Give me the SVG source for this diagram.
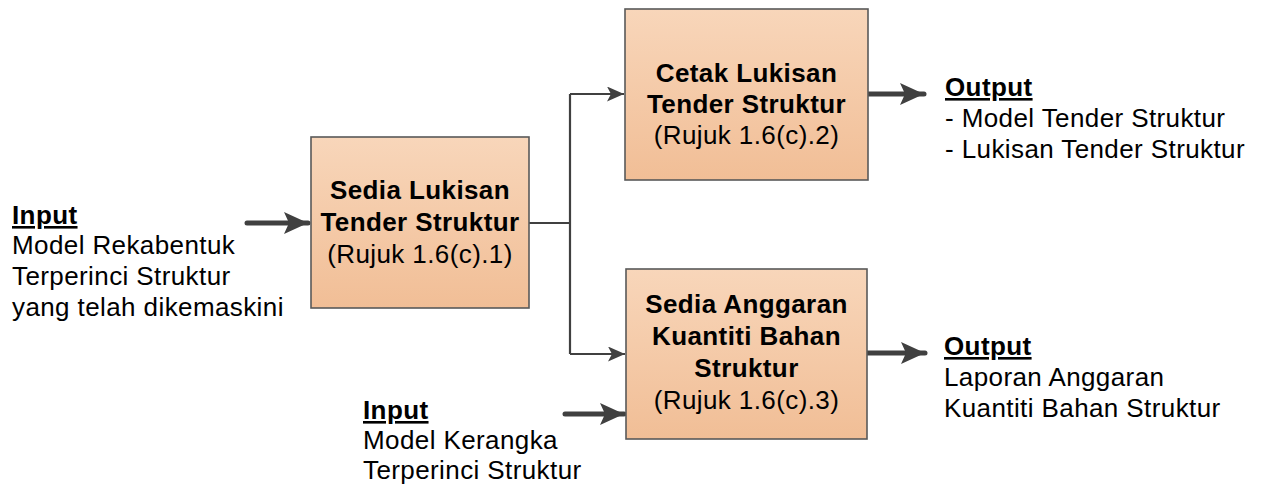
<svg xmlns="http://www.w3.org/2000/svg" width="1265" height="489" viewBox="0 0 1265 489">
  <style>
    text { font-family: "Liberation Sans", Arial, sans-serif; font-size: 26px; letter-spacing: 0.4px; fill: #000; }
    .b { font-weight: bold; }
    .u { font-weight: bold; text-decoration: underline; }
    .c { text-anchor: middle; }
    .box { fill: url(#peach); stroke: #595959; stroke-width: 1.6; }
    .thin { fill: none; stroke: #404040; stroke-width: 2.2; }
    .thick { fill: none; stroke: #404040; stroke-width: 5; stroke-linecap: round; }
  </style>
  <defs>
    <linearGradient id="peach" x1="0" y1="0" x2="0" y2="1">
      <stop offset="0" stop-color="#F8D6BA"/>
      <stop offset="1" stop-color="#F1BE96"/>
    </linearGradient>
    <marker id="headThin" viewBox="0 0 17 15" refX="17" refY="7.5" markerWidth="17" markerHeight="15" markerUnits="userSpaceOnUse" orient="auto">
      <path d="M0,0 L17,7.5 L0,15 L4,7.5 Z" fill="#404040"/>
    </marker>
    <marker id="headThick" viewBox="0 0 24 22" refX="24" refY="11" markerWidth="24" markerHeight="22" markerUnits="userSpaceOnUse" orient="auto">
      <path d="M0,0 L24,11 L0,22 L5,11 Z" fill="#404040"/>
    </marker>
  </defs>

  <!-- connectors -->
  <g id="connectors">
    <path class="thick" d="M247,223 L308,223" marker-end="url(#headThick)"/>
    <path class="thin" d="M529,223 L570,223"/>
    <path class="thin" d="M570,94 L570,354"/>
    <path class="thin" d="M570,94 L624,94" marker-end="url(#headThin)"/>
    <path class="thin" d="M570,354 L625,354" marker-end="url(#headThin)"/>
    <path class="thick" d="M565,414 L624,414" marker-end="url(#headThick)"/>
    <path class="thick" d="M868,94 L924,94" marker-end="url(#headThick)"/>
    <path class="thick" d="M867,353 L925,353" marker-end="url(#headThick)"/>
  </g>

  <!-- process: prepare tender drawings -->
  <g id="sedia-lukisan">
    <rect class="box" x="311" y="137" width="218" height="171"/>
    <text class="b c" x="420" y="199">Sedia Lukisan</text>
    <text class="b c" x="420" y="231">Tender Struktur</text>
    <text class="c" x="420" y="263">(Rujuk 1.6(c).1)</text>
  </g>

  <!-- process: print tender drawings -->
  <g id="cetak-lukisan">
    <rect class="box" x="625" y="9" width="243" height="171"/>
    <text class="b c" x="746.5" y="82">Cetak Lukisan</text>
    <text class="b c" x="746.5" y="113">Tender Struktur</text>
    <text class="c" x="746.5" y="144">(Rujuk 1.6(c).2)</text>
  </g>

  <!-- process: prepare quantity estimate -->
  <g id="sedia-anggaran">
    <rect class="box" x="626" y="269" width="241" height="170"/>
    <text class="b c" x="746.5" y="313">Sedia Anggaran</text>
    <text class="b c" x="746.5" y="345">Kuantiti Bahan</text>
    <text class="b c" x="746.5" y="377">Struktur</text>
    <text class="c" x="746.5" y="409">(Rujuk 1.6(c).3)</text>
  </g>

  <!-- input to first process -->
  <g id="input-1">
    <text class="u" x="12" y="224">Input</text>
    <text x="12" y="254">Model Rekabentuk</text>
    <text x="12" y="285">Terperinci Struktur</text>
    <text x="12" y="316">yang telah dikemaskini</text>
  </g>

  <!-- input to quantity estimate -->
  <g id="input-2">
    <text class="u" x="363" y="419">Input</text>
    <text x="363" y="449">Model Kerangka</text>
    <text x="363" y="479">Terperinci Struktur</text>
  </g>

  <!-- outputs -->
  <g id="output-1">
    <text class="u" x="945" y="96">Output</text>
    <text x="945" y="127">- Model Tender Struktur</text>
    <text x="945" y="158">- Lukisan Tender Struktur</text>
  </g>

  <g id="output-2">
    <text class="u" x="944" y="355">Output</text>
    <text x="944" y="386">Laporan Anggaran</text>
    <text x="944" y="417">Kuantiti Bahan Struktur</text>
  </g>
</svg>
